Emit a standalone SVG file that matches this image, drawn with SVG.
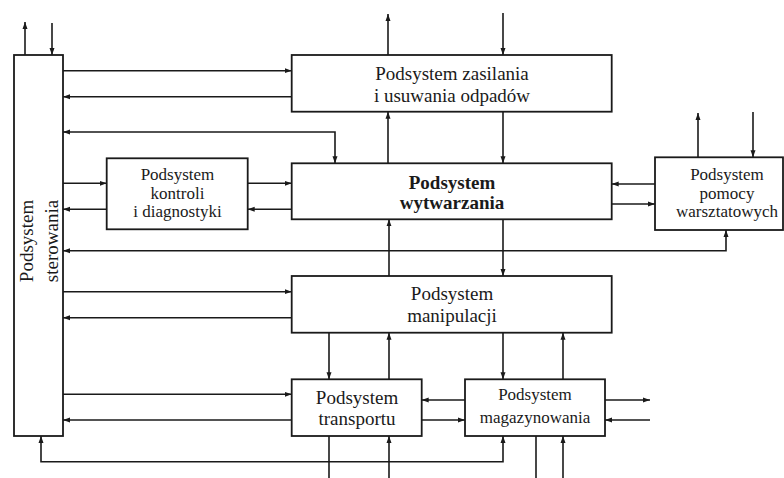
<svg xmlns="http://www.w3.org/2000/svg" width="784" height="478" viewBox="0 0 784 478">
<style>
.box{fill:#fff;stroke:#1a1a1a;stroke-width:1.8}
.t{font-family:"Liberation Serif","Times New Roman",serif;fill:#1a1a1a;text-anchor:middle}
.L{font-size:19px}
.S{font-size:17px}
.b{font-weight:bold}
.c{fill:none;stroke:#1a1a1a;stroke-width:1.6}
.e{marker-end:url(#ah)}
.d{marker-start:url(#ah);marker-end:url(#ah)}
</style>
<defs>
<marker id="ah" markerUnits="userSpaceOnUse" markerWidth="8" markerHeight="6" refX="7" refY="3" orient="auto-start-reverse">
<path d="M0,0.5 L7,3 L0,5.5 z" fill="#1a1a1a"/>
</marker>
</defs>
<g id="connectors">
<path class="c e" d="M25,55 V22"/>
<path class="c e" d="M52,23 V55"/>
<path class="c e" d="M63,70.7 H291.7"/>
<path class="c e" d="M291.7,96.7 H63"/>
<path class="c d" d="M63,132 H335 V163.3"/>
<path class="c e" d="M388,55 V14"/>
<path class="c e" d="M503,13 V55"/>
<path class="c e" d="M388,163.3 V111.7"/>
<path class="c e" d="M503,111.7 V163.3"/>
<path class="c e" d="M63,183.3 H106.7"/>
<path class="c e" d="M106.7,209.3 H63"/>
<path class="c e" d="M247.7,183.3 H291.7"/>
<path class="c e" d="M291.7,209.3 H247.7"/>
<path class="c e" d="M655,184 H611.7"/>
<path class="c e" d="M611.7,204 H655"/>
<path class="c e" d="M698,157.3 V113"/>
<path class="c e" d="M753,112 V157.3"/>
<path class="c d" d="M63,250.7 H726 V230"/>
<path class="c e" d="M389,276 V219.3"/>
<path class="c e" d="M503,219.3 V276"/>
<path class="c e" d="M63,291.7 H291.7"/>
<path class="c e" d="M291.7,317.7 H63"/>
<path class="c e" d="M329,332.7 V379.3"/>
<path class="c e" d="M389,379.3 V332.7"/>
<path class="c e" d="M503,332.7 V379.3"/>
<path class="c e" d="M563,379.3 V332.7"/>
<path class="c e" d="M63,394.3 H291.7"/>
<path class="c e" d="M291.7,420 H63"/>
<path class="c e" d="M465,400 H421.7"/>
<path class="c e" d="M421.7,420 H465"/>
<path class="c e" d="M605,400 H650"/>
<path class="c e" d="M650,420 H605"/>
<path class="c d" d="M41,436 V461.7 H503 V436"/>
<path class="c" d="M329,436 V478"/>
<path class="c e" d="M389,478 V436"/>
<path class="c" d="M536,436 V478"/>
<path class="c e" d="M563,478 V436"/>
</g>
<g id="sterowania">
<rect class="box" x="14" y="55" width="49" height="381"/>
<text class="t L" transform="translate(33,241) rotate(-90)">Podsystem</text>
<text class="t L" transform="translate(58,241) rotate(-90)">sterowania</text>
</g>
<g id="zasilania">
<rect class="box" x="291.7" y="55" width="320" height="56.7"/>
<text class="t L" x="452" y="80">Podsystem zasilania</text>
<text class="t L" x="452" y="102">i usuwania odpadów</text>
</g>
<g id="kontroli">
<rect class="box" x="106.7" y="158.3" width="141" height="71"/>
<text class="t S" x="177.5" y="180">Podsystem</text>
<text class="t S" x="177.5" y="198.7">kontroli</text>
<text class="t S" x="177.5" y="217.3">i diagnostyki</text>
</g>
<g id="wytwarzania">
<rect class="box" x="291.7" y="163.3" width="320" height="56"/>
<text class="t L b" x="452" y="189.3">Podsystem</text>
<text class="t L b" x="452" y="209.3">wytwarzania</text>
</g>
<g id="pomocy">
<rect class="box" x="655" y="157.3" width="128" height="72.7"/>
<text class="t S" x="727" y="180">Podsystem</text>
<text class="t S" x="727" y="199">pomocy</text>
<text class="t S" x="727" y="217.3">warsztatowych</text>
</g>
<g id="manipulacji">
<rect class="box" x="291.7" y="276" width="320" height="56.7"/>
<text class="t L" x="452" y="300">Podsystem</text>
<text class="t L" x="452" y="321.7">manipulacji</text>
</g>
<g id="transportu">
<rect class="box" x="291.7" y="379.3" width="130" height="56.7"/>
<text class="t L" x="357" y="404">Podsystem</text>
<text class="t L" x="357" y="425">transportu</text>
</g>
<g id="magazynowania">
<rect class="box" x="465" y="379.3" width="140" height="56.7"/>
<text class="t S" x="535" y="400">Podsystem</text>
<text class="t S" x="535" y="422.7">magazynowania</text>
</g>
</svg>
